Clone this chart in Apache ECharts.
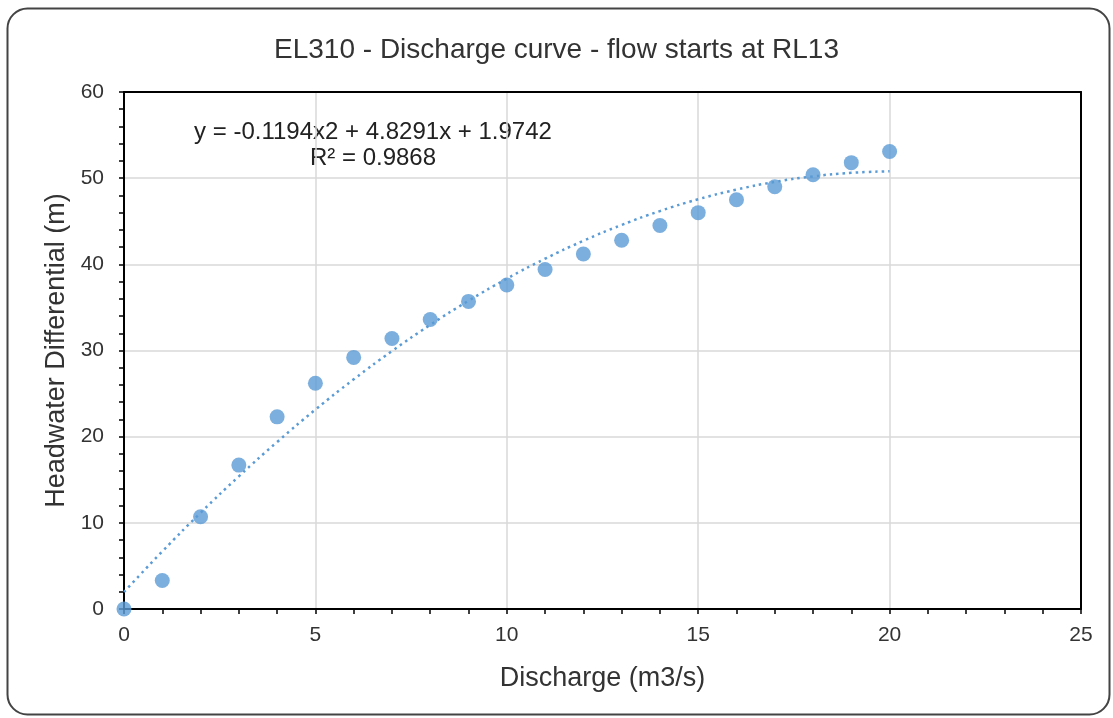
<!DOCTYPE html>
<html>
<head>
<meta charset="utf-8">
<script src="https://cdn.jsdelivr.net/npm/echarts@6/dist/echarts.min.js"></script>
<style>
html,body{margin:0;padding:0;background:#fff;}
#chart{width:1113px;height:718px;}
</style>
</head>
<body>
<div id="chart"></div>
<script>
// Data
const dischargeX = [0,1,2,3,4,5,6,7,8,9,10,11,12,13,14,15,16,17,18,19,20];
const headwaterY = [0,3.3,10.7,16.7,22.3,26.2,29.2,31.4,33.6,35.7,37.6,39.4,41.2,42.8,44.5,46.0,47.5,49.0,50.4,51.8,53.1];
// Trendline values (polynomial shown on chart), sampled at each x
const trendY = [1.97,6.68,11.16,15.39,19.38,23.14,26.65,29.93,32.97,35.77,38.33,40.65,42.73,44.57,46.18,47.55,48.67,49.56,50.21,50.62,50.80];
const titleText = 'EL310 - Discharge curve - flow starts at RL13';
const equationText = 'y = -0.1194x2 + 4.8291x + 1.9742\nR² = 0.9868';

const points = dischargeX.map((x, i) => [x, headwaterY[i]]);
const trend = dischargeX.map((x, i) => [x, trendY[i]]);

const chart = echarts.init(document.getElementById('chart'));
const font = 'Liberation Sans, Arial, sans-serif';
const frameAxis = {
  show: true,
  axisLine: {show: true, onZero: false, lineStyle: {color: '#000', width: 2}},
  axisTick: {show: false}, axisLabel: {show: false}, splitLine: {show: false}, z: 5
};
chart.setOption({
  backgroundColor: '#fff',
  animation: false,
  title: {
    text: titleText,
    left: 'center',
    top: 31,
    textStyle: {fontFamily: font, fontSize: 28, fontWeight: 'normal', color: '#333'}
  },
  grid: {
    left: 124, right: 32, top: 92, bottom: 109
  },
  xAxis: [{
    type: 'value', min: 0, max: 25, interval: 5,
    name: 'Discharge (m3/s)', nameLocation: 'middle', nameGap: 56,
    nameTextStyle: {fontFamily: font, fontSize: 27, color: '#333'},
    axisLine: {show: true, onZero: false, lineStyle: {color: '#000', width: 2}},
    axisTick: {show: true, inside: false, length: 5, lineStyle: {color: '#000', width: 1.5}},
    minorTick: {show: true, splitNumber: 5, length: 5, lineStyle: {color: '#000', width: 1.5}},
    axisLabel: {fontFamily: font, fontSize: 21, color: '#333', margin: 16},
    splitLine: {show: true, lineStyle: {color: '#d9d9d9', width: 1.5}}
  }, Object.assign({type: 'value', min: 0, max: 25, interval: 5, position: 'top'}, frameAxis)],
  yAxis: [{
    type: 'value', min: 0, max: 60, interval: 10,
    name: 'Headwater Differential (m)', nameLocation: 'middle', nameGap: 43,
    nameTextStyle: {fontFamily: font, fontSize: 27, color: '#333'},
    axisLine: {show: true, onZero: false, lineStyle: {color: '#000', width: 2}},
    axisTick: {show: true, inside: false, length: 5, lineStyle: {color: '#000', width: 1.5}},
    minorTick: {show: true, splitNumber: 5, length: 5, lineStyle: {color: '#000', width: 1.5}},
    axisLabel: {fontFamily: font, fontSize: 21, color: '#333', margin: 20},
    splitLine: {show: true, lineStyle: {color: '#d9d9d9', width: 1.5}}
  }, Object.assign({type: 'value', min: 0, max: 60, interval: 10, position: 'right'}, frameAxis)],
  series: [
    {
      type: 'line', data: trend, smooth: true, symbol: 'none', z: 1,
      lineStyle: {color: '#5b9bd5', width: 2.5, type: [2.5, 4]}
    },
    {
      type: 'scatter', data: points, symbol: 'circle', symbolSize: 15, z: 2,
      itemStyle: {color: '#5b9bd5'}
    }
  ],
  graphic: [
    {
      type: 'rect', left: 5, top: 6, z: -10,
      shape: {width: 1102, height: 706, r: 20},
      style: {fill: 'none', stroke: '#444', lineWidth: 2}
    },
    {
      type: 'text', x: 373, y: 119,
      style: {text: equationText, fontFamily: font, fontSize: 24, fill: '#222', textAlign: 'center', lineHeight: 26}
    }
  ]
});
</script>
</body>
</html>
